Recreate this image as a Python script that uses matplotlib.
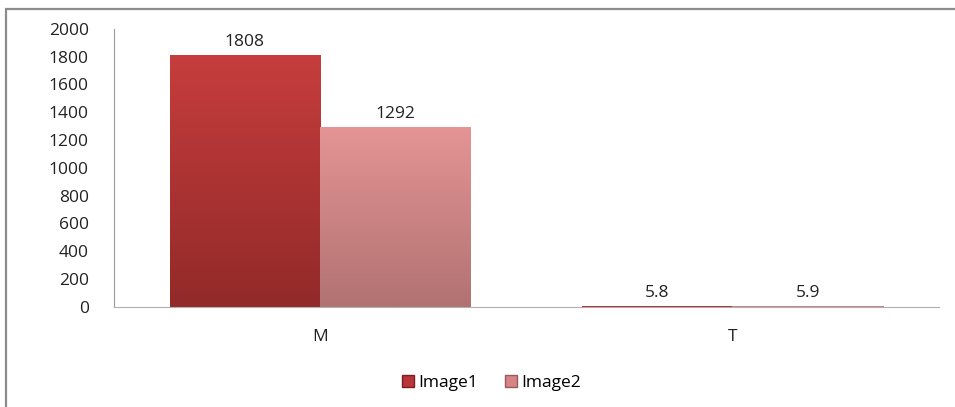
import numpy as np
import matplotlib.pyplot as plt
from matplotlib.patches import Rectangle
from matplotlib.lines import Line2D

categories = ['M', 'T']
series_names = ['Image1', 'Image2']
image1 = [1808, 5.8]
image2 = [1292, 5.9]
value_labels1 = ['1808', '5.8']
value_labels2 = ['1292', '5.9']
yticks = list(range(0, 2001, 200))

plt.rcParams['font.family'] = ['Open Sans', 'DejaVu Sans']
fs = 12.5

fig = plt.figure(figsize=(9.55, 4.07), dpi=100)
ax = fig.add_axes([0.119, 0.246, 0.864, 0.683])

# outer chart frame (cut by the screenshot at right and bottom)
fig.patches.append(Rectangle((5.5 / 955, -0.05), 1.0, 1.05 - 8.5 / 407,
                             transform=fig.transFigure, fill=False,
                             edgecolor='#8c8c8c', linewidth=1.6))

x = np.arange(len(categories))
w = 0.364
colors = ['#b8353a', '#d58585']
edges = ['#7a1f1f', '#9a5a5a']
top_colors = ['#c63d3d', '#e49494']
bot_colors = ['#922a29', '#b27272']

for i, (vals, labels) in enumerate([(image1, value_labels1), (image2, value_labels2)]):
    pos = x - w / 2 + i * w
    bars = ax.bar(pos, vals, width=w, color=colors[i], edgecolor=edges[i],
                  linewidth=0.6, label=series_names[i], zorder=2)
    # vertical gradient inside each bar
    for b in bars:
        grad = np.linspace(0, 1, 64).reshape(-1, 1)
        cmap = plt.matplotlib.colors.LinearSegmentedColormap.from_list(
            'g', [bot_colors[i], top_colors[i]])
        ax.imshow(grad, cmap=cmap, aspect='auto', origin='lower',
                  extent=[b.get_x(), b.get_x() + b.get_width(), 0, b.get_height()],
                  zorder=2.5)
    for p, v, t in zip(pos, vals, labels):
        ax.annotate(t, (p, v), xytext=(0, 4), textcoords='offset points',
                    ha='center', va='bottom', fontsize=fs, color='#222222')

ax.set_xlim(-0.5, 1.5)
ax.set_ylim(0, 2000)
ax.set_yticks(yticks)
ax.set_xticks(x)
ax.set_xticklabels(categories)
ax.tick_params(axis='both', labelsize=fs, colors='#222222', length=0)
ax.tick_params(axis='y', pad=18)
ax.tick_params(axis='x', pad=16)
for s in ['top', 'right']:
    ax.spines[s].set_visible(False)
ax.spines['left'].set_color('#9a9a9a')
ax.spines['bottom'].set_color('#b0b0b0')

handles = [Line2D([], [], marker='s', linestyle='', markersize=9,
                  markerfacecolor=c, markeredgecolor=e)
           for c, e in zip(colors, edges)]
fig.legend(handles, series_names, loc='center', bbox_to_anchor=(0.513, 0.058),
           ncol=2, frameon=False, fontsize=fs, handletextpad=0.1,
           columnspacing=1.4, handlelength=1.0)

fig.savefig('out.png', dpi=100)
